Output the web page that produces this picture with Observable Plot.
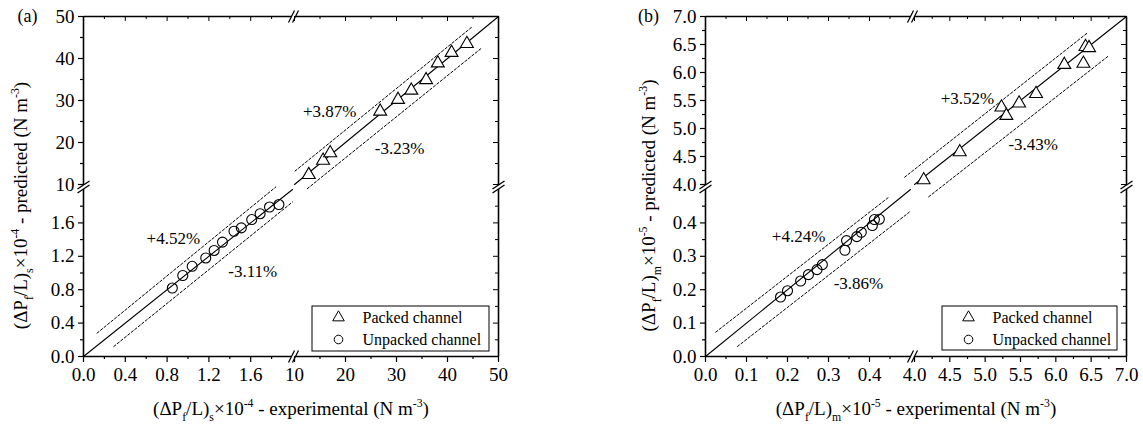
<!DOCTYPE html>
<html>
<head>
<meta charset="utf-8">
<script src="https://cdn.jsdelivr.net/npm/d3@7"></script>
<script src="https://cdn.jsdelivr.net/npm/@observablehq/plot@0.6"></script>
<style>
  html, body { margin: 0; padding: 0; background: #fff; }
  #fig { display: flex; width: 1143px; height: 426px; }
  #fig svg { display: block; }
  #fig svg text { font-family: "Liberation Serif", "Times New Roman", Times, serif; }
</style>
</head>
<body>
<div id="fig"></div>
<script>
// ---------- Panel (a): (ΔPf/L)s ×10^-4, predicted vs experimental ----------
const aPackedExp    = [12.8, 15.6, 17.0, 26.8, 30.3, 32.9, 35.8, 38.1, 40.8, 43.8];
const aPackedPred   = [12.3, 15.7, 17.5, 27.4, 30.2, 32.4, 34.9, 38.9, 41.4, 43.5];
const aUnpackedExp  = [0.85, 0.95, 1.04, 1.17, 1.25, 1.33, 1.44, 1.51, 1.61, 1.69, 1.78, 1.87];
const aUnpackedPred = [0.82, 0.97, 1.08, 1.18, 1.27, 1.37, 1.50, 1.54, 1.64, 1.71, 1.79, 1.82];

// parity line and deviation bands (x, y pairs, one list per axis segment)
const aParityLo = [0, 2];
const aParityHi = [10, 50];
const aUpperLoX = [0.13, 1.84], aUpperLoY = [0.28, 2.03];
const aLowerLoX = [0.29, 2.00], aLowerLoY = [0.12, 1.85];
const aUpperHiX = [10.1, 44.9], aUpperHiY = [13.2, 47.6];
const aLowerHiX = [12.5, 46.7], aLowerHiY = [9.0, 42.5];

const aNoteText = ["+4.52%", "-3.11%", "+3.87%", "-3.23%"];
const aNoteX    = [0.86, 1.62, 16.9, 30.6];
const aNoteY    = [1.41, 1.02, 27.4, 18.6];

const aTicksLo      = [0, 0.4, 0.8, 1.2, 1.6];
const aMinorLo      = [0.2, 0.6, 1.0, 1.4, 1.8];
const aTicksHi      = [10, 20, 30, 40, 50];
const aMinorHi      = [15, 25, 35, 45];

// ---------- Panel (b): (ΔPf/L)m ×10^-5, predicted vs experimental ----------
const bPackedExp    = [4.13, 4.64, 5.23, 5.30, 5.48, 5.72, 6.12, 6.39, 6.42, 6.47];
const bPackedPred   = [4.08, 4.58, 5.38, 5.23, 5.45, 5.62, 6.14, 6.16, 6.46, 6.44];
const bUnpackedExp  = [0.183, 0.200, 0.232, 0.251, 0.272, 0.285, 0.340, 0.344, 0.369, 0.380, 0.407, 0.412, 0.424];
const bUnpackedPred = [0.178, 0.197, 0.226, 0.245, 0.260, 0.275, 0.318, 0.347, 0.359, 0.372, 0.392, 0.410, 0.411];

const bParityLo = [0, 0.5];
const bParityHi = [4, 7];
const bUpperLoX = [0.025, 0.447], bUpperLoY = [0.073, 0.477];
const bLowerLoX = [0.078, 0.497], bLowerLoY = [0.030, 0.432];
const bUpperHiX = [3.86, 6.44],   bUpperHiY = [4.13, 6.70];
const bLowerHiX = [4.20, 6.75],   bLowerHiY = [3.78, 6.30];

const bNoteText = ["+4.24%", "-3.86%", "+3.52%", "-3.43%"];
const bNoteX    = [0.227, 0.373, 4.75, 5.68];
const bNoteY    = [0.359, 0.219, 5.54, 4.71];

const bTicksLo = [0, 0.1, 0.2, 0.3, 0.4];
const bMinorLo = [0.05, 0.15, 0.25, 0.35, 0.45];
const bTicksHi = [4, 4.5, 5, 5.5, 6, 6.5, 7];
const bMinorHi = [4.25, 4.75, 5.25, 5.75, 6.25, 6.75];

const legendLabels = ["Packed channel", "Unpacked channel"];

const FONT = "Liberation Serif, Times New Roman, Times, serif";

// Piecewise position for a broken axis: two linear segments separated by a gap (in px).
function brokenAxis(lo, hi, loLen, gap, hiLen) {
  const split = (lo[1] + hi[0]) / 2;
  const f = v => v < split
    ? (v - lo[0]) / (lo[1] - lo[0]) * loLen
    : loLen + gap + (v - hi[0]) / (hi[1] - hi[0]) * hiLen;
  f.gapStart = loLen; f.gapEnd = loLen + gap; f.total = loLen + gap + hiLen;
  return f;
}

const zip = (xs, ys) => xs.map((x, i) => ({x, y: ys[i]}));

function panel(cfg) {
  const {W, H, fx, fy} = cfg;
  const bxm = (fx.gapStart + fx.gapEnd) / 2;
  const bym = (fy.gapStart + fy.gapEnd) / 2;

  const xMajor = [...cfg.ticksLo.map(v => [fx(v), cfg.fmtLo(v)]), ...cfg.ticksHi.map(v => [fx(v), cfg.fmtHi(v)])];
  const yMajor = [...cfg.ticksLo.map(v => [fy(v), cfg.fmtLo(v)]), ...cfg.ticksHi.map(v => [fy(v), cfg.fmtHi(v)])];
  const xMinor = [...cfg.minorLo, ...cfg.minorHi].map(fx);
  const yMinor = [...cfg.minorLo, ...cfg.minorHi].map(fy);
  const xLabel = new Map(xMajor), yLabel = new Map(yMajor);

  // frame segments, interrupted at the breaks
  const frame = [
    [0, 0, bxm - 2, 0], [bxm + 2, 0, W, 0],
    [0, H, bxm - 2, H], [bxm + 2, H, W, H],
    [0, 0, 0, bym - 2], [0, bym + 2, 0, H],
    [W, 0, W, bym - 2], [W, bym + 2, W, H]
  ];
  // "//" break symbols
  const slashes = [];
  for (const o of [-2, 2]) {
    for (const yy of [0, H]) slashes.push([bxm + o - 3, yy - 6, bxm + o + 3, yy + 6]);
    for (const xx of [0, W]) slashes.push([xx - 6, bym + o - 4, xx + 6, bym + o + 4]);
  }

  const seg = (xs, ys, k) => xs.map((x, i) => ({x: fx(x), y: fy(ys[i]), k}));
  const bands = [
    ...seg(cfg.upperLo[0], cfg.upperLo[1], 0), ...seg(cfg.lowerLo[0], cfg.lowerLo[1], 1),
    ...seg(cfg.upperHi[0], cfg.upperHi[1], 2), ...seg(cfg.lowerHi[0], cfg.lowerHi[1], 3)
  ];
  const parity = [...seg(cfg.parityLo, cfg.parityLo, 0), ...seg(cfg.parityHi, cfg.parityHi, 1)];
  const notes = cfg.noteText.map((t, i) => ({t, x: fx(cfg.noteX[i]), y: fy(cfg.noteY[i])}));
  const L = cfg.legend;
  const txt = {fontFamily: FONT, fill: "#000"};

  return Plot.plot({
    width: cfg.width, height: 426,
    marginLeft: cfg.left, marginRight: cfg.width - cfg.left - W,
    marginTop: 16, marginBottom: 426 - 16 - H,
    x: {type: "linear", domain: [0, W]},
    y: {type: "linear", domain: [0, H]},
    style: {fontFamily: FONT, fontSize: "19px", background: "#fff", color: "#000", overflow: "visible"},
    marks: [
      // axes
      Plot.axisX(xMajor.map(d => d[0]), {anchor: "bottom", tickSize: 6, tickPadding: 5, tickFormat: d => xLabel.get(d), label: null, fontSize: 19, strokeWidth: 1.2, ...txt}),
      Plot.axisX(xMinor, {anchor: "bottom", tickSize: 3, tickFormat: () => "", label: null, strokeWidth: 1.2}),
      Plot.axisY(yMajor.map(d => d[0]), {anchor: "left", tickSize: 5, tickPadding: 4, tickFormat: d => yLabel.get(d), label: null, fontSize: 19, strokeWidth: 1.2, ...txt}),
      Plot.axisY(yMinor, {anchor: "left", tickSize: 3, tickFormat: () => "", label: null, strokeWidth: 1.2}),
      // mirrored ticks on top and right
      Plot.ruleX(xMajor.map(d => d[0]), {x: d => d, y1: H, y2: H - 5, stroke: "#000"}),
      Plot.ruleX(xMinor, {x: d => d, y1: H, y2: H - 3, stroke: "#000"}),
      Plot.ruleY(yMajor.map(d => d[0]), {y: d => d, x1: W, x2: W - 5, stroke: "#000"}),
      Plot.ruleY(yMinor, {y: d => d, x1: W, x2: W - 3, stroke: "#000"}),
      Plot.link(frame, {x1: d => d[0], y1: d => d[1], x2: d => d[2], y2: d => d[3], stroke: "#000", strokeWidth: 1.6}),
      Plot.link(slashes, {x1: d => d[0], y1: d => d[1], x2: d => d[2], y2: d => d[3], stroke: "#000", strokeWidth: 1.3}),
      // deviation bands and parity line
      Plot.line(bands, {x: "x", y: "y", z: "k", stroke: "#000", strokeWidth: 1, strokeDasharray: "2.5,2"}),
      Plot.line(parity, {x: "x", y: "y", z: "k", stroke: "#000", strokeWidth: 1.1}),
      // data
      Plot.dot(zip(cfg.unpackedExp, cfg.unpackedPred), {x: d => fx(d.x), y: d => fy(d.y), symbol: "circle", r: 5, stroke: "#000", fill: "none", strokeWidth: 1.1}),
      Plot.dot(zip(cfg.packedExp, cfg.packedPred), {x: d => fx(d.x), y: d => fy(d.y), symbol: "triangle", r: 4.8, stroke: "#000", fill: "#fff", strokeWidth: 1.1}),
      // deviation labels
      Plot.text(notes, {x: "x", y: "y", text: "t", fontSize: 17, textAnchor: "middle", lineAnchor: "middle", ...txt}),
      // legend
      Plot.rect([0], {x1: L.x1, x2: L.x2, y1: L.y1, y2: L.y2, fill: "#fff", stroke: "#000", strokeWidth: 1}),
      Plot.dot([legendLabels[0]], {x: L.sx, y: L.r1, symbol: "triangle", r: 4.3, stroke: "#000", fill: "none", strokeWidth: 1}),
      Plot.dot([legendLabels[1]], {x: L.sx, y: L.r2, symbol: "circle", r: 4.3, stroke: "#000", fill: "none", strokeWidth: 1}),
      Plot.text(legendLabels, {x: L.tx, y: (d, i) => i === 0 ? L.r1 : L.r2, text: d => d, textAnchor: "start", lineAnchor: "middle", fontSize: 16, ...txt}),
      // titles
      Plot.text([cfg.xTitle], {frameAnchor: "bottom", dy: 52, text: d => d, fontSize: 19, textAnchor: "middle", lineAnchor: "middle", ...txt}),
      Plot.text([cfg.yTitle], {frameAnchor: "left", dx: cfg.yTitleDx, dy: 19, rotate: -90, text: d => d, fontSize: 19, textAnchor: "middle", lineAnchor: "middle", ...txt}),
      Plot.text([cfg.tag], {frameAnchor: "top-left", dx: cfg.tagDx, text: d => d, fontSize: 18, textAnchor: "middle", lineAnchor: "middle", ...txt})
    ]
  });
}

// serif everywhere; turn _{...} and ^{...} into subscript / superscript tspans
function richText(svg) {
  const NS = "http://www.w3.org/2000/svg";
  for (const t of svg.querySelectorAll("text")) {
    t.setAttribute("font-family", FONT);
    const s = t.textContent;
    if (!/[_^]\{/.test(s)) continue;
    const fs = parseFloat(getComputedStyle(t).fontSize) || 19;
    t.textContent = "";
    let shift = 0, m;
    const re = /([_^])\{([^}]*)\}|([^_^]+)/g;
    while ((m = re.exec(s))) {
      const span = document.createElementNS(NS, "tspan");
      const target = m[1] ? (m[1] === "_" ? 0.32 * fs : -0.42 * fs) : 0;
      if (target !== shift) span.setAttribute("dy", (target - shift).toFixed(2));
      shift = target;
      if (m[1]) span.setAttribute("font-size", (0.62 * fs).toFixed(2));
      span.textContent = m[1] ? m[2] : m[3];
      t.appendChild(span);
    }
  }
}

const fig = document.getElementById("fig");

const a = panel({
  tag: "(a)", width: 571, left: 83, W: 415, H: 340, tagDx: -56, yTitleDx: -63,
  fx: brokenAxis([0, 2], [10, 50], 209, 2, 204),
  fy: brokenAxis([0, 2], [10, 50], 167, 5, 168),
  ticksLo: aTicksLo, ticksHi: aTicksHi, minorLo: aMinorLo, minorHi: aMinorHi,
  fmtLo: v => v.toFixed(1), fmtHi: v => String(v),
  packedExp: aPackedExp, packedPred: aPackedPred,
  unpackedExp: aUnpackedExp, unpackedPred: aUnpackedPred,
  parityLo: aParityLo, parityHi: aParityHi,
  upperLo: [aUpperLoX, aUpperLoY], lowerLo: [aLowerLoX, aLowerLoY],
  upperHi: [aUpperHiX, aUpperHiY], lowerHi: [aLowerHiX, aLowerHiY],
  noteText: aNoteText, noteX: aNoteX, noteY: aNoteY,
  legend: {x1: 229, x2: 406, y1: 5, y2: 50, sx: 255, tx: 279, r1: 39, r2: 17},
  xTitle: "(ΔP_{f}/L)_{s}×10^{-4} - experimental (N m^{-3})",
  yTitle: "(ΔP_{f}/L)_{s}×10^{-4} - predicted (N m^{-3})"
});

const b = panel({
  tag: "(b)", width: 572, left: 134, W: 421, H: 340, tagDx: -57, yTitleDx: -57,
  fx: brokenAxis([0, 0.5], [4, 7], 205, 4, 212),
  fy: brokenAxis([0, 0.5], [4, 7], 167, 5, 168),
  ticksLo: bTicksLo, ticksHi: bTicksHi, minorLo: bMinorLo, minorHi: bMinorHi,
  fmtLo: v => v.toFixed(1), fmtHi: v => v.toFixed(1),
  packedExp: bPackedExp, packedPred: bPackedPred,
  unpackedExp: bUnpackedExp, unpackedPred: bUnpackedPred,
  parityLo: bParityLo, parityHi: bParityHi,
  upperLo: [bUpperLoX, bUpperLoY], lowerLo: [bLowerLoX, bLowerLoY],
  upperHi: [bUpperHiX, bUpperHiY], lowerHi: [bLowerHiX, bLowerHiY],
  noteText: bNoteText, noteX: bNoteX, noteY: bNoteY,
  legend: {x1: 237, x2: 412, y1: 6, y2: 50, sx: 263, tx: 287, r1: 39, r2: 17},
  xTitle: "(ΔP_{f}/L)_{m}×10^{-5} - experimental (N m^{-3})",
  yTitle: "(ΔP_{f}/L)_{m}×10^{-5} - predicted (N m^{-3})"
});

fig.append(a, b);
richText(a);
richText(b);
</script>
</body>
</html>
